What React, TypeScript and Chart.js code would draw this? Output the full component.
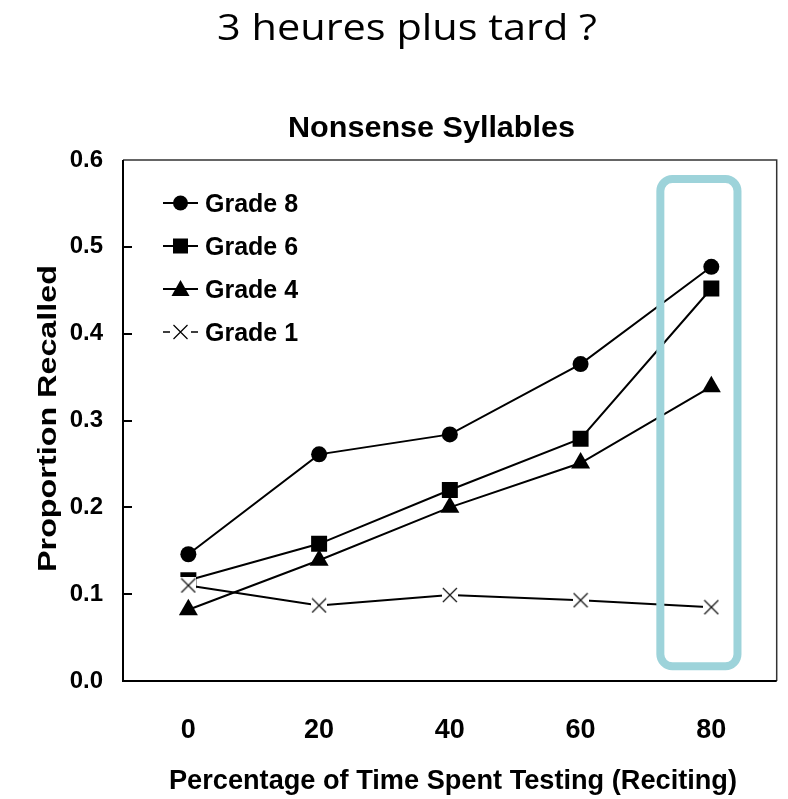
import React, { useEffect, useRef } from 'react';
import { Chart, registerables } from 'chart.js';

Chart.register(...registerables);

// ---- data ----
const pageTitle = '3 heures plus tard ?';
const chartTitle = 'Nonsense Syllables';
const xAxisTitle = 'Percentage of Time Spent Testing (Reciting)';
const yAxisTitle = 'Proportion Recalled';

const testingPercent = [0, 20, 40, 60, 80];
const grade8 = [0.146, 0.261, 0.284, 0.365, 0.477];
const grade6 = [0.116, 0.158, 0.22, 0.279, 0.452];
const grade4 = [0.082, 0.139, 0.2, 0.251, 0.339];
const grade1 = [0.11, 0.087, 0.099, 0.093, 0.085];
const seriesNames = ['Grade 8', 'Grade 6', 'Grade 4', 'Grade 1'];
const yTickValues = [0, 0.1, 0.2, 0.3, 0.4, 0.5, 0.6];

// highlighted region, in data units
const highlightX = [72.2, 84];
const highlightY = [0.017, 0.578];

const HL_COLOR = '#9dd3da';

function makeCross(size: number): HTMLCanvasElement {
  const c = document.createElement('canvas');
  c.width = size;
  c.height = size;
  const g = c.getContext('2d')!;
  g.fillStyle = '#fff';
  g.fillRect(0, 0, size, size);
  g.strokeStyle = '#111';
  g.lineWidth = 1.2;
  g.beginPath();
  g.moveTo(1, 1);
  g.lineTo(size - 1, size - 1);
  g.moveTo(size - 1, 1);
  g.lineTo(1, size - 1);
  g.stroke();
  return c;
}

function drawFitted(
  ctx: CanvasRenderingContext2D,
  text: string,
  font: string,
  cx: number,
  baseline: number,
  targetW: number,
  angle = 0
) {
  ctx.save();
  ctx.font = font;
  const w = ctx.measureText(text).width;
  ctx.translate(cx, baseline);
  ctx.rotate(angle);
  ctx.scale(targetW / w, 1);
  ctx.textAlign = 'center';
  ctx.textBaseline = 'alphabetic';
  ctx.fillStyle = '#000';
  ctx.fillText(text, 0, 0);
  ctx.restore();
}

function drawMarker(ctx: CanvasRenderingContext2D, kind: string, x: number, y: number) {
  ctx.save();
  ctx.fillStyle = '#000';
  ctx.strokeStyle = '#000';
  if (kind === 'circle') {
    ctx.beginPath();
    ctx.arc(x, y, 7.5, 0, Math.PI * 2);
    ctx.fill();
  } else if (kind === 'rect') {
    ctx.fillRect(x - 7.5, y - 7.5, 15, 15);
  } else if (kind === 'triangle') {
    ctx.beginPath();
    ctx.moveTo(x, y - 9);
    ctx.lineTo(x + 9, y + 7);
    ctx.lineTo(x - 9, y + 7);
    ctx.closePath();
    ctx.fill();
  } else {
    ctx.lineWidth = 1.2;
    ctx.beginPath();
    ctx.moveTo(x - 7, y - 7);
    ctx.lineTo(x + 7, y + 7);
    ctx.moveTo(x + 7, y - 7);
    ctx.lineTo(x - 7, y + 7);
    ctx.stroke();
  }
  ctx.restore();
}

const decorPlugin = {
  id: 'decor',
  afterDatasetsDraw(chart: any) {
    const { ctx, scales } = chart;
    const x = scales.x;
    const y = scales.y;
    // highlight rounded rectangle
    const l = x.getPixelForValue(highlightX[0]);
    const r = x.getPixelForValue(highlightX[1]);
    const t = y.getPixelForValue(highlightY[1]);
    const b = y.getPixelForValue(highlightY[0]);
    ctx.save();
    ctx.strokeStyle = HL_COLOR;
    ctx.lineWidth = 8;
    ctx.beginPath();
    (ctx as any).roundRect(l, t, r - l, b - t, 12);
    ctx.stroke();
    ctx.restore();
  },
  afterDraw(chart: any) {
    const { ctx, chartArea, scales } = chart;
    const { left, right, top, bottom } = chartArea;
    ctx.save();
    // frame: top & right thin grey
    ctx.strokeStyle = '#333';
    ctx.lineWidth = 1.5;
    ctx.beginPath();
    ctx.moveTo(left, top);
    ctx.lineTo(right, top);
    ctx.lineTo(right, bottom);
    ctx.stroke();
    // left & bottom axes black
    ctx.strokeStyle = '#000';
    ctx.lineWidth = 2;
    ctx.beginPath();
    ctx.moveTo(left, top);
    ctx.lineTo(left, bottom);
    ctx.lineTo(right, bottom);
    ctx.stroke();
    // inward ticks on y axis
    ctx.lineWidth = 2;
    yTickValues.forEach((v) => {
      if (v <= 0 || v >= 0.6) return;
      const py = Math.round(scales.y.getPixelForValue(v));
      ctx.beginPath();
      ctx.moveTo(left, py);
      ctx.lineTo(left + 9, py);
      ctx.stroke();
    });
    ctx.restore();

    // titles
    drawFitted(ctx, pageTitle, '400 37px "Open Sans", "Noto Sans", sans-serif', 407, 40, 380);
    drawFitted(ctx, chartTitle, 'bold 29px "Liberation Sans", Arial, sans-serif', 431.5, 137, 287);
    drawFitted(ctx, xAxisTitle, 'bold 27px "Liberation Sans", Arial, sans-serif', 453, 789, 568);
    drawFitted(ctx, yAxisTitle, 'bold 25px "Liberation Sans", Arial, sans-serif', 56, 418.5, 307, -Math.PI / 2);

    // legend
    const kinds = ['circle', 'rect', 'triangle', 'cross'];
    const rowY = [203, 246, 289, 332];
    ctx.save();
    seriesNames.forEach((name, i) => {
      const cy = rowY[i];
      ctx.strokeStyle = '#000';
      if (kinds[i] === 'cross') {
        ctx.lineWidth = 1.3;
        ctx.beginPath();
        ctx.moveTo(163, cy);
        ctx.lineTo(170, cy);
        ctx.moveTo(191, cy);
        ctx.lineTo(198, cy);
        ctx.stroke();
      } else {
        ctx.lineWidth = 2;
        ctx.beginPath();
        ctx.moveTo(163, cy);
        ctx.lineTo(198, cy);
        ctx.stroke();
      }
      drawMarker(ctx, kinds[i], 180.5, cy);
      ctx.font = 'bold 25px "Liberation Sans", Arial, sans-serif';
      ctx.fillStyle = '#000';
      ctx.textAlign = 'left';
      ctx.textBaseline = 'alphabetic';
      ctx.fillText(name, 205, cy + 9);
    });
    ctx.restore();
  },
};

export default function App() {
  const canvasRef = useRef<HTMLCanvasElement | null>(null);

  useEffect(() => {
    if (!canvasRef.current) return;
    const cross = makeCross(16);
    const toPts = (vals: number[]) => testingPercent.map((x, i) => ({ x, y: vals[i] }));
    const common = {
      borderColor: '#000',
      borderWidth: 2,
      backgroundColor: '#000',
      pointBackgroundColor: '#000',
      pointBorderColor: '#000',
      pointBorderWidth: 0,
      tension: 0,
      fill: false,
    };
    const chart = new Chart(canvasRef.current, {
      type: 'line',
      data: {
        datasets: [
          { ...common, label: seriesNames[0], data: toPts(grade8), pointStyle: 'circle', pointRadius: 8, order: 1 },
          { ...common, label: seriesNames[1], data: toPts(grade6), pointStyle: 'rect', pointRadius: 11.3, order: 2 },
          { ...common, label: seriesNames[2], data: toPts(grade4), pointStyle: 'triangle', pointRadius: 11, order: 3 },
          { ...common, label: seriesNames[3], data: toPts(grade1), pointStyle: cross as any, pointRadius: 8, order: 0 },
        ],
      },
      options: {
        animation: false,
        responsive: false,
        devicePixelRatio: 1,
        layout: { padding: { top: 160, right: 10, left: 0, bottom: 0 } },
        plugins: {
          legend: { display: false },
          tooltip: { enabled: false },
          title: { display: false },
        },
        scales: {
          x: {
            type: 'linear',
            min: -10,
            max: 90,
            afterBuildTicks: (s: any) => {
              s.ticks = testingPercent.map((v) => ({ value: v }));
            },
            afterFit: (s: any) => {
              s.height = 118;
            },
            grid: { display: false, drawTicks: false },
            border: { display: false },
            ticks: {
              color: '#000',
              padding: 33,
              font: { family: '"Liberation Sans", Arial, sans-serif', weight: 'bold', size: 27 },
              callback: (v: any) => String(v),
            },
          },
          y: {
            type: 'linear',
            min: 0,
            max: 0.6,
            afterBuildTicks: (s: any) => {
              s.ticks = yTickValues.map((v) => ({ value: v }));
            },
            afterFit: (s: any) => {
              s.width = 123;
            },
            grid: { display: false, drawTicks: false },
            border: { display: false },
            ticks: {
              color: '#000',
              padding: 20,
              font: { family: '"Liberation Sans", Arial, sans-serif', weight: 'bold', size: 24 },
              callback: (v: any) => Number(v).toFixed(1),
            },
          },
        },
      },
      plugins: [decorPlugin],
    });
    return () => chart.destroy();
  }, []);

  return (
    <div style={{ position: 'fixed', left: 0, top: 0, width: 788, height: 799, background: '#fff' }}>
      <canvas ref={canvasRef} width={788} height={799} style={{ display: 'block', width: 788, height: 799 }} />
    </div>
  );
}
